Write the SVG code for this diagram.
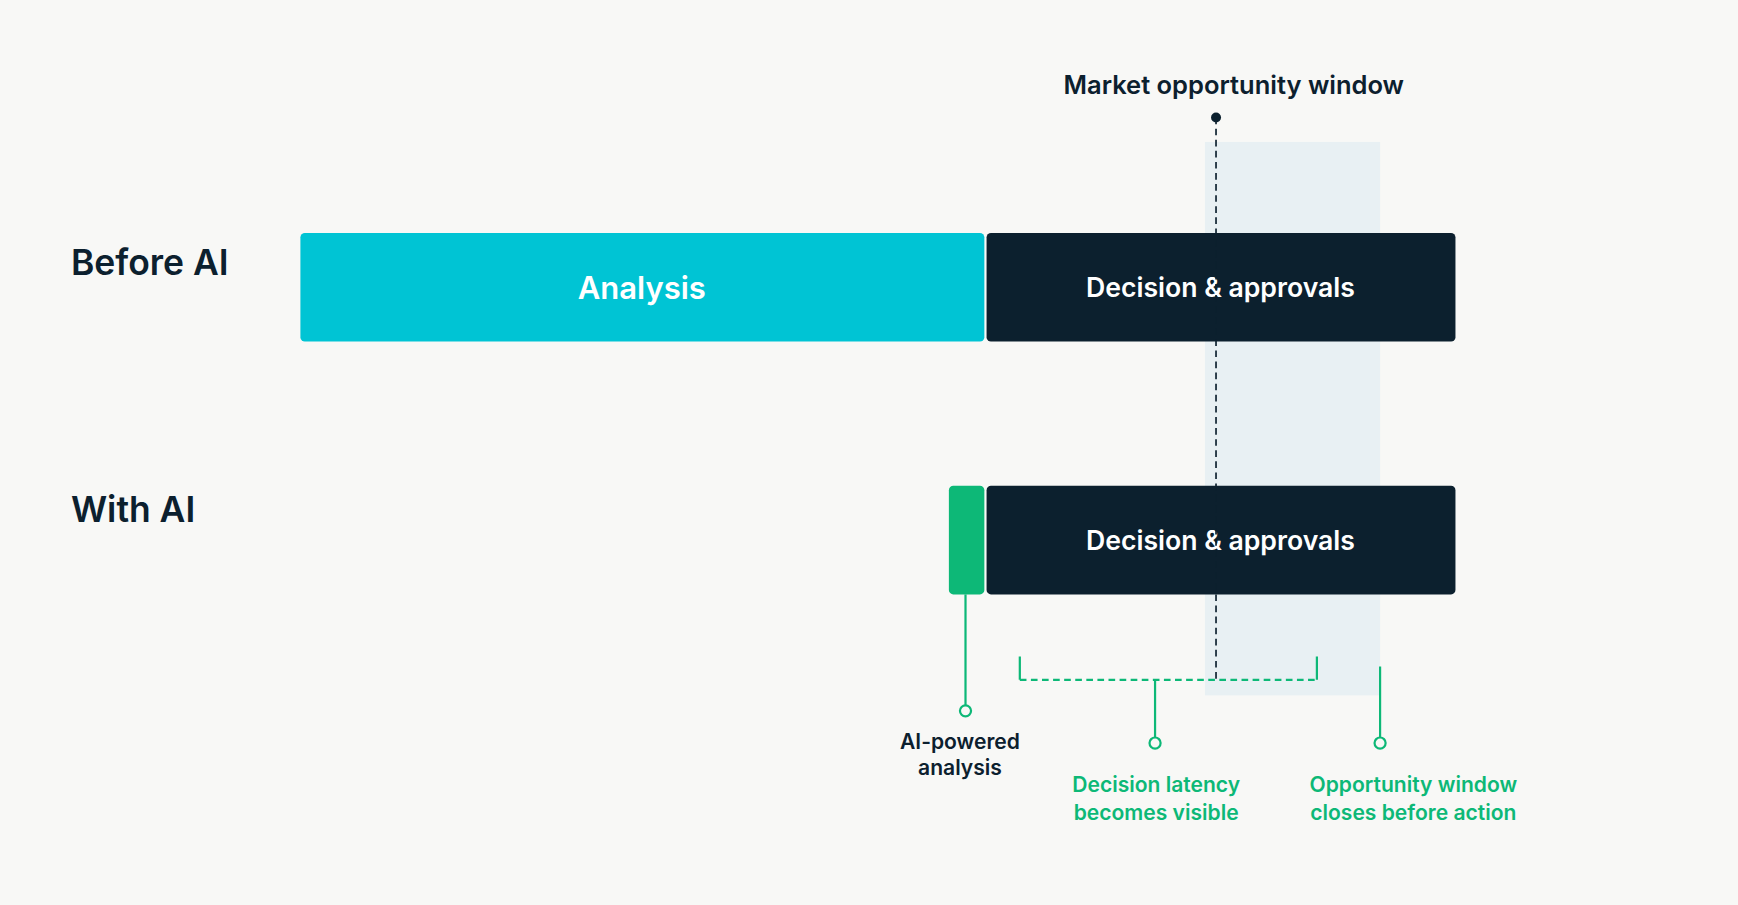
<svg xmlns="http://www.w3.org/2000/svg" width="1738" height="905" viewBox="0 0 1738 905">
<style>
text{font-family:"Inter","Liberation Sans",sans-serif;font-weight:600}
.row{font-size:32px;fill:#0c202e}
.bar{font-size:24px;fill:#fff;text-anchor:middle}
.lab{font-size:19px;text-anchor:middle}
.g{fill:#0db877}.d{fill:#0c202e}
.gl{stroke:#0db877;stroke-width:2;fill:none}
</style>
<rect width="1738" height="905" fill="#f8f8f6"/>
<g transform="scale(1.1085,1.109)">
<rect id="window" x="1087" y="128" width="158" height="499" fill="#e8f0f3"/>
<g id="before-label"><text class="row" x="64" y="248">Before AI</text></g>
<g id="with-label"><text class="row" x="64" y="471">With AI</text></g>
<g id="analysis"><rect x="271" y="210" width="617" height="98" rx="4" fill="#00c4d4"/><text class="bar" x="579" y="270" style="font-size:28px">Analysis</text></g>
<g id="decision1"><rect x="890" y="210" width="423" height="98" rx="4" fill="#0c202e"/><text class="bar" x="1101" y="268">Decision &amp; approvals</text></g>
<g id="ai-analysis"><rect x="856" y="438" width="32" height="98" rx="4" fill="#0db877"/></g>
<g id="decision2"><rect x="890" y="438" width="423" height="98" rx="4" fill="#0c202e"/><text class="bar" x="1101" y="496">Decision &amp; approvals</text></g>
<g id="connectors">
<line x1="1097" y1="106" x2="1097" y2="613" stroke="#0c202e" stroke-width="1.5" stroke-dasharray="6 4"/>
<circle cx="1097" cy="106" r="4.5" fill="#0c202e"/>
<path class="gl" d="M871,536V636"/><circle class="gl" cx="871" cy="641" r="5"/>
<path class="gl" d="M920,592V613M1188,592V613"/>
<path class="gl" d="M920,613H1188" stroke-dasharray="6 4"/>
<path class="gl" d="M1042,613V665"/><circle class="gl" cx="1042" cy="670" r="5"/>
<path class="gl" d="M1245,601V665"/><circle class="gl" cx="1245" cy="670" r="5"/>
</g>
<g id="market-label"><text x="1113" y="85" style="font-size:23px;text-anchor:middle" class="d">Market opportunity window</text></g>
<g id="ai-label"><text class="lab d" x="866" y="675">AI-powered</text><text class="lab d" x="866" y="699">analysis</text></g>
<g id="latency-label"><text class="lab g" x="1043" y="714">Decision latency</text><text class="lab g" x="1043" y="739">becomes visible</text></g>
<g id="closes-label"><text class="lab g" x="1275" y="714">Opportunity window</text><text class="lab g" x="1275" y="739">closes before action</text></g>
</g>
</svg>
